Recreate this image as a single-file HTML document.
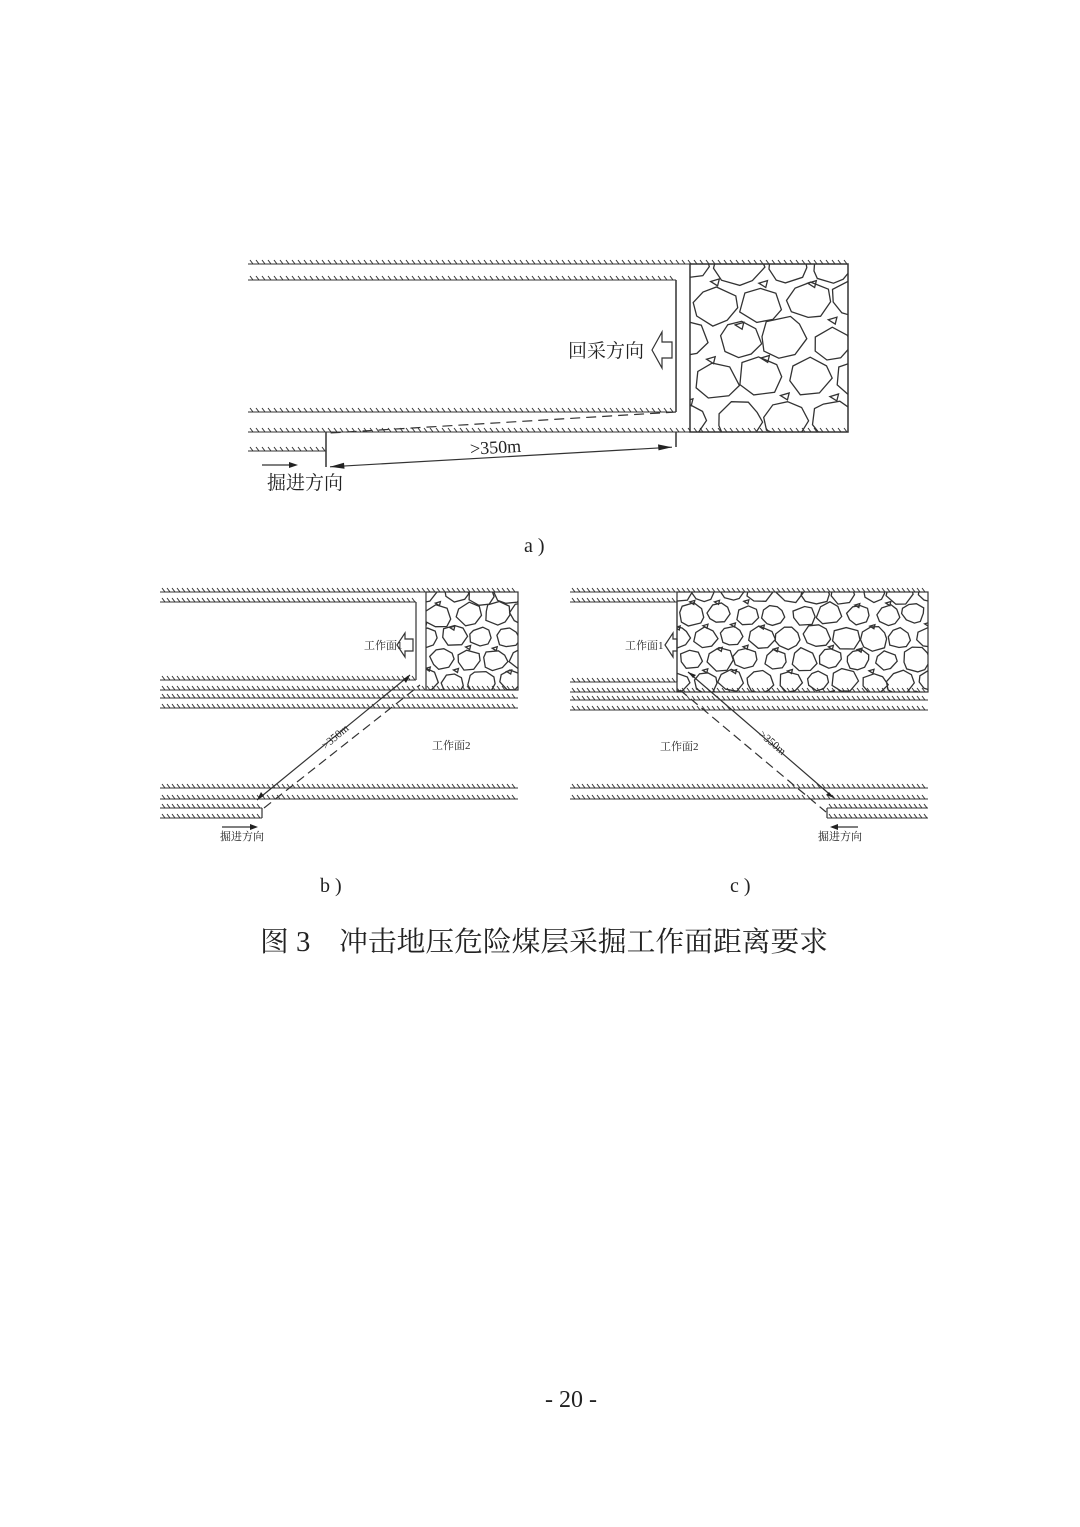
<!DOCTYPE html>
<html><head><meta charset="utf-8"><style>
html,body{margin:0;padding:0;background:#fff}
svg{display:block}
text{font-family:"Liberation Serif","Noto Serif CJK SC","Noto Sans CJK SC",serif;fill:#222}
</style></head><body>
<svg id="s" width="1080" height="1527" viewBox="0 0 1080 1527" xmlns="http://www.w3.org/2000/svg">
<defs>
<clipPath id="ca"><rect x="690" y="264" width="158" height="168"/></clipPath>
<clipPath id="cb"><rect x="426" y="592" width="92" height="98"/></clipPath>
<clipPath id="cc"><rect x="677" y="592" width="251" height="100"/></clipPath>
</defs>
<g id="g" stroke="#333" fill="none" stroke-width="1.3"></g>
<g stroke="#333" fill="none" stroke-width="1.5">
<path d="M676 280V412"/>
<rect x="690" y="264" width="158" height="168"/>
<path d="M676 412L330 433" stroke-dasharray="10,6" stroke-width="1.2"/>
<path d="M326 432V467M676 432V447"/>
<path d="M330 466.8L672 447.2" stroke-width="1.2"/>
<path d="M652 350L662 332V342H672V358H662V368Z" stroke-width="1.2"/>
<path d="M262 465H292" stroke-width="1.2"/>
</g>
<g fill="#222">
<path d="M330 466.8l14 -4l0.5 6z"/><path d="M672 447.2l-14 -2.8l0.5 6z"/>
<path d="M298 465l-9 -3v6z"/>
</g>
<text x="568" y="357" font-size="19">回采方向</text>
<text x="267" y="489" font-size="19">掘进方向</text>
<text x="470" y="453" font-size="18" transform="rotate(-3.3 500 448)">&gt;350m</text>
<g stroke="#333" fill="none" stroke-width="1.2">
<path d="M416 602V680"/>
<rect x="426" y="592" width="92" height="98"/>
<path d="M262 808V818"/>
<path d="M257 800L410 675"/>
<path d="M264 808L420 685" stroke-dasharray="9,5"/>
<path d="M397 645L405 633V639H413V651H405V657Z"/>
<path d="M222 827H252"/>
<path d="M832 827H858"/>
<path d="M677 602V682"/>
<rect x="677" y="592" width="251" height="100"/>
<path d="M827 808V818"/>
<path d="M688 672L834 798"/>
<path d="M680 690L826 812" stroke-dasharray="9,5"/>
<path d="M665 645L673 633V639H677V651H673V657Z"/>
</g>
<g fill="#222">
<path d="M257 800l4 -8l3 4z"/><path d="M410 675l-4 8l-3 -4z"/>
<path d="M258 827l-8 -3v6z"/><path d="M830 827l8 -3v6z"/>
<path d="M688 672l8 3l-3 3z"/><path d="M834 798l-8 -3l3 -3z"/>
</g>
<text x="364" y="649" font-size="11">工作面1</text>
<text x="432" y="749" font-size="11">工作面2</text>
<text x="220" y="840" font-size="11">掘进方向</text>
<text x="314" y="742" font-size="11" transform="rotate(-40 330 730)">&gt;350m</text>
<text x="625" y="649" font-size="11">工作面1</text>
<text x="660" y="750" font-size="11">工作面2</text>
<text x="818" y="840" font-size="11">掘进方向</text>
<text x="758" y="744" font-size="11" transform="rotate(40 770 740)">&gt;350m</text>
<text x="524" y="552" font-size="20">a )</text>
<text x="320" y="892" font-size="20">b )</text>
<text x="730" y="892" font-size="20">c )</text>
<text x="260" y="951" font-size="28" textLength="568" lengthAdjust="spacingAndGlyphs">图 3　冲击地压危险煤层采掘工作面距离要求</text>
<text x="545" y="1407" font-size="24">- 20 -</text>
</svg>
<script>
var g=document.getElementById('g'),NS='http://www.w3.org/2000/svg';
function el(t,a,p){var e=document.createElementNS(NS,t);for(var k in a)e.setAttribute(k,a[k]);(p||g).appendChild(e);return e;}
function H(x1,x2,y,up,sp){sp=sp||6;var d='M'+x1+' '+y+'H'+x2;var s=-1;
for(var x=x1+2;x<x2-1;x+=sp){d+='M'+x+' '+(y+s*4)+'l3 '+(-s*4);}
el('path',{d:d,'stroke-width':1});}
H(248,848,264);H(248,676,280);H(248,676,412);H(248,848,432);H(248,326,451);
H(160,518,592,true,5);H(160,416,602,true,5);H(160,416,680,true,5);H(160,518,690,true,5);H(160,518,698,true,5);H(160,518,708,true,5);
H(160,518,788,true,5);H(160,518,799,true,5);H(160,262,808,true,5);H(160,262,818,true,5);
H(570,928,592,true,5);H(570,677,602,true,5);H(570,677,682,true,5);H(570,928,692,true,5);H(570,928,700,true,5);H(570,928,710,true,5);
H(570,928,788,true,5);H(570,928,799,true,5);H(827,928,808,true,5);H(827,928,818,true,5);
var seed=7;function r(){seed=(seed*9301+49297)%233280;return seed/233280;}
function rocks(x0,y0,w,h,cs,clip){var gg=el('g',{'clip-path':'url(#'+clip+')'});
for(var j=-1;j*cs*0.8<h+cs;j++)for(var i=-1;i*cs<w+cs;i++){
var cx=x0+i*cs+(j%2?cs/2:0)+(r()-0.5)*cs*0.15,cy=y0+j*cs*0.8+(r()-0.5)*cs*0.15;
var rad=cs*(0.36+r()*0.1);var n=7+Math.floor(r()*3),pts=[];
for(var k=0;k<n;k++){var a=k/n*6.283+r()*0.3,rr=rad*(0.85+r()*0.2);pts.push((cx+Math.cos(a)*rr*1.15).toFixed(1)+','+(cy+Math.sin(a)*rr).toFixed(1));}
el('polygon',{points:pts.join(' ')},gg);
if(r()>0.5){var sx=cx+cs/2,sy=cy+cs*0.4,sr=cs*0.09;el('polygon',{points:(sx-sr)+','+sy+' '+(sx+sr)+','+(sy-sr*0.6)+' '+(sx+sr*0.6)+','+(sy+sr)},gg);}
}}
rocks(690,264,158,168,48,'ca');rocks(426,592,92,98,28,'cb');rocks(677,592,251,100,28,'cc');
</script>
</body></html>
